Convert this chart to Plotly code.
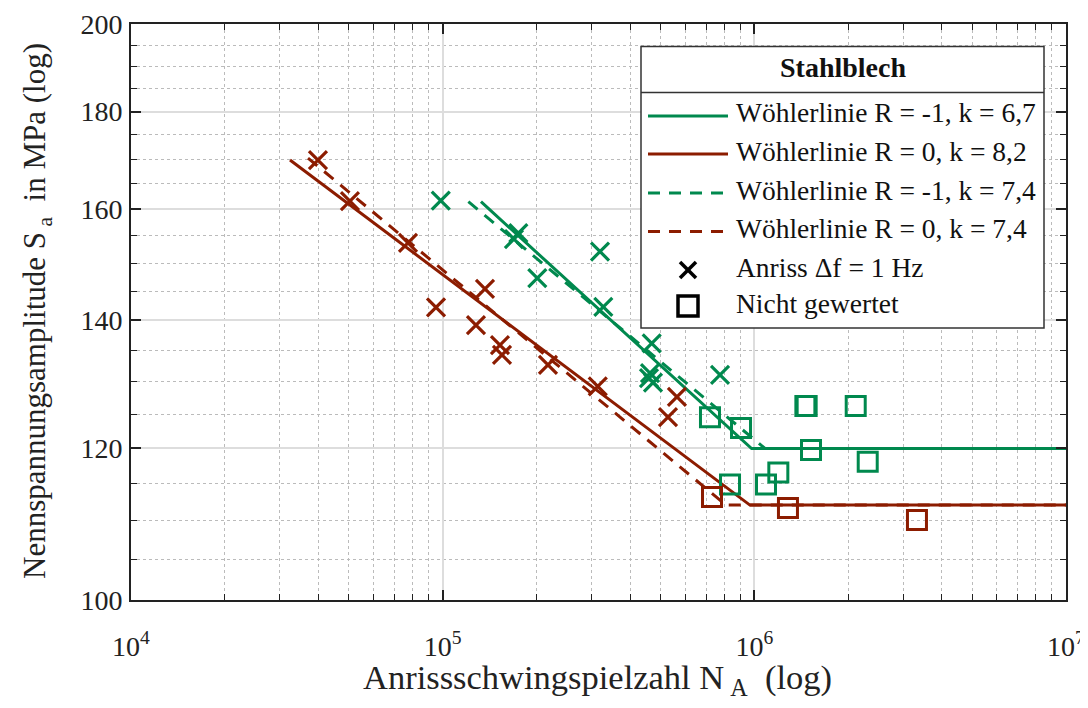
import plotly.graph_objects as go

# ---------------- data ----------------
# R = -1 (green)
r1_anriss_N = [98600, 174900, 169300, 201200, 319800, 327700, 468500, 462600, 459200, 473000, 776000]
r1_anriss_S = [161.7, 155.5, 154.4, 147.3, 152.1, 142.3, 136.2, 131.4, 130.6, 129.9, 131.1]
r1_nicht_N = [720600, 906300, 1458000, 1472000, 2115000, 1520000, 2311000, 835600, 1090000, 1194000]
r1_nicht_S = [124.6, 123.0, 126.3, 126.3, 126.3, 119.8, 118.1, 114.9, 114.9, 116.6]
# R = 0 (brown)
r0_anriss_N = [39800, 50400, 77400, 95200, 136700, 127900, 152700, 155000, 217700, 314500, 528400, 564500]
r0_anriss_S = [169.8, 161.6, 153.7, 142.2, 145.4, 139.2, 135.9, 134.3, 132.7, 129.3, 124.6, 127.7]
r0_nicht_N = [731500, 1282000, 3325000]
r0_nicht_S = [113.2, 111.7, 110.1]

# Woehler lines (start, knee, end)
wl_r1_k67_N = [132700, 980000, 1e7]
wl_r1_k67_S = [161.5, 120.0, 120.0]
wl_r0_k82_N = [32370, 968000, 1e7]
wl_r0_k82_S = [169.8, 112.1, 112.1]
wl_r1_k74_N = [120900, 1082000, 1e7]
wl_r1_k74_S = [161.5, 120.0, 120.0]
wl_r0_k74_N = [36980, 811000, 1e7]
wl_r0_k74_S = [170.2, 112.1, 112.1]

y_major = [100, 120, 140, 160, 180, 200]
y_minor = [v for v in range(105, 200, 5) if v % 20 != 0]
x_major = [1e4, 1e5, 1e6, 1e7]
x_major_text = ["10<sup>4</sup>", "10<sup>5</sup>", "10<sup>6</sup>", "10<sup>7</sup>"]
x_minor = [m * 10 ** e for e in (4, 5, 6) for m in range(2, 10)]

x_title = "Anrissschwingspielzahl N<sub>&#160;A</sub>&#160;&#160;(log)"
y_title = "Nennspannungsamplitude S<sub>&#160;a</sub>&#160; in MPa (log)"
legend_title = "Stahlblech"
legend_labels = ["Wöhlerlinie R = -1, k = 6,7", "Wöhlerlinie R = 0, k = 8,2",
                 "Wöhlerlinie R = -1, k = 7,4", "Wöhlerlinie R = 0, k = 7,4",
                 "Anriss Δf = 1 Hz", "Nicht gewertet"]

GREEN = "rgb(0,137,78)"
BROWN = "rgb(140,28,0)"
FONT = "Liberation Serif"
TXT = "#222222"

fig = go.Figure()

LW = 3
DASH = "12px,9px"
fig.add_trace(go.Scatter(x=wl_r1_k74_N, y=wl_r1_k74_S, mode="lines",
                         line=dict(color=GREEN, width=LW, dash=DASH), showlegend=False))
fig.add_trace(go.Scatter(x=wl_r0_k74_N, y=wl_r0_k74_S, mode="lines",
                         line=dict(color=BROWN, width=LW, dash=DASH), showlegend=False))
fig.add_trace(go.Scatter(x=wl_r1_k67_N, y=wl_r1_k67_S, mode="lines",
                         line=dict(color=GREEN, width=LW), showlegend=False))
fig.add_trace(go.Scatter(x=wl_r0_k82_N, y=wl_r0_k82_S, mode="lines",
                         line=dict(color=BROWN, width=LW), showlegend=False))

XS = 18
SQ = 19
fig.add_trace(go.Scatter(x=r1_anriss_N, y=r1_anriss_S, mode="markers",
                         marker=dict(symbol="x-thin-open", size=XS, color=GREEN, line=dict(color=GREEN, width=3.2)),
                         showlegend=False))
fig.add_trace(go.Scatter(x=r0_anriss_N, y=r0_anriss_S, mode="markers",
                         marker=dict(symbol="x-thin-open", size=XS, color=BROWN, line=dict(color=BROWN, width=3.2)),
                         showlegend=False))
fig.add_trace(go.Scatter(x=r1_nicht_N, y=r1_nicht_S, mode="markers",
                         marker=dict(symbol="square-open", size=SQ, color=GREEN, line=dict(color=GREEN, width=3)),
                         showlegend=False))
fig.add_trace(go.Scatter(x=r0_nicht_N, y=r0_nicht_S, mode="markers",
                         marker=dict(symbol="square-open", size=SQ, color=BROWN, line=dict(color=BROWN, width=3)),
                         showlegend=False))

# ---------------- layout ----------------
# the page body has an 8px margin, so the figure is placed at (8, 8) in the window
OFF = 8
W, H = 1088 - 2 * OFF, 708 - 2 * OFF
L, R, T, B = 131 - OFF, 22 - OFF, 24 - OFF, 108 - OFF
PW, PH = W - L - R, H - T - B


def px(x):
    # window pixel -> paper x
    return (x - OFF - L) / PW


def py(y):
    # window pixel -> paper y
    return (H - B - (y - OFF)) / PH


shapes = []
annotations = []
# axis titles (placed as annotations for precise position)
annotations.append(dict(xref="paper", yref="paper", x=px(597), y=py(656), text=x_title,
                        showarrow=False, xanchor="center", yanchor="top",
                        font=dict(family=FONT, size=34.5, color=TXT)))
annotations.append(dict(xref="paper", yref="paper", x=px(37), y=py(311), text=y_title, textangle=-90,
                        showarrow=False, xanchor="center", yanchor="middle",
                        font=dict(family=FONT, size=31, color=TXT)))
# legend box
shapes.append(dict(type="rect", xref="paper", yref="paper", x0=px(641), x1=px(1044), y0=py(328), y1=py(46.5),
                   fillcolor="white", line=dict(color="#333333", width=1.5), layer="above"))
shapes.append(dict(type="line", xref="paper", yref="paper", x0=px(641), x1=px(1044), y0=py(92.5), y1=py(92.5),
                   line=dict(color="#333333", width=1.5), layer="above"))
annotations.append(dict(xref="paper", yref="paper", x=px(842.5), y=py(68), text="<b>" + legend_title + "</b>",
                        showarrow=False, xanchor="center", yanchor="middle",
                        font=dict(family=FONT, size=28, color="#111111")))
rows = [116, 154, 193, 231.5, 270, 306]
styles = [(GREEN, "solid"), (BROWN, "solid"), (GREEN, DASH), (BROWN, DASH)]
for i, (col, dash) in enumerate(styles):
    shapes.append(dict(type="line", xref="paper", yref="paper", x0=px(648), x1=px(728), y0=py(rows[i]),
                       y1=py(rows[i]), line=dict(color=col, width=LW, dash=dash), layer="above"))
# cross glyph
cx, cy, a = 688, 270, 8
shapes.append(dict(type="line", xref="paper", yref="paper", x0=px(cx - a), x1=px(cx + a), y0=py(cy - a), y1=py(cy + a),
                   line=dict(color="black", width=3.5), layer="above"))
shapes.append(dict(type="line", xref="paper", yref="paper", x0=px(cx - a), x1=px(cx + a), y0=py(cy + a), y1=py(cy - a),
                   line=dict(color="black", width=3.5), layer="above"))
# square glyph
sx, sy, s = 688, 306, 10
shapes.append(dict(type="rect", xref="paper", yref="paper", x0=px(sx - s), x1=px(sx + s), y0=py(sy + s), y1=py(sy - s),
                   line=dict(color="black", width=3.5), fillcolor="rgba(0,0,0,0)", layer="above"))
for i, lab in enumerate(legend_labels):
    annotations.append(dict(xref="paper", yref="paper", x=px(734), y=py(rows[i] - 3), text=lab,
                            showarrow=False, xanchor="left", yanchor="middle",
                            font=dict(family=FONT, size=27.5, color="#111111")))

fig.update_layout(
    width=W, height=H,
    margin=dict(l=L, r=R, t=T, b=B, pad=0, autoexpand=False),
    plot_bgcolor="white", paper_bgcolor="white",
    font=dict(family=FONT, color=TXT, size=26),
    shapes=shapes, annotations=annotations,
    showlegend=False,
)

fig.update_xaxes(
    type="log", range=[4, 7], automargin=False,
    tickvals=x_major, ticktext=x_major_text, ticklabeloverflow="allow",
    ticks="inside", ticklen=10, tickwidth=1.5, tickcolor="#222222",
    showline=True, linecolor="#222222", linewidth=2, mirror="ticks",
    showgrid=True, gridcolor="#DDDDDD", gridwidth=1.5,
    tickfont=dict(family=FONT, size=28, color=TXT), ticklabelstandoff=20,
    minor=dict(tickvals=x_minor, ticks="inside", ticklen=6, tickwidth=1.2, tickcolor="#222222",
               showgrid=True, gridcolor="#BBBBBB", griddash="dot", gridwidth=1),
    zeroline=False,
)
fig.update_yaxes(
    type="log", range=[2, 2.30103], automargin=False,
    tickvals=y_major, ticktext=[str(v) for v in y_major],
    ticks="inside", ticklen=10, tickwidth=1.5, tickcolor="#222222",
    showline=True, linecolor="#222222", linewidth=2, mirror="ticks",
    showgrid=True, gridcolor="#DDDDDD", gridwidth=1.5,
    tickfont=dict(family=FONT, size=28, color=TXT), ticklabelstandoff=1,
    minor=dict(tickvals=y_minor, ticks="inside", ticklen=6, tickwidth=1.2, tickcolor="#222222",
               showgrid=True, gridcolor="#BBBBBB", griddash="dot", gridwidth=1),
    zeroline=False,
)

fig.write_html("out.html")
